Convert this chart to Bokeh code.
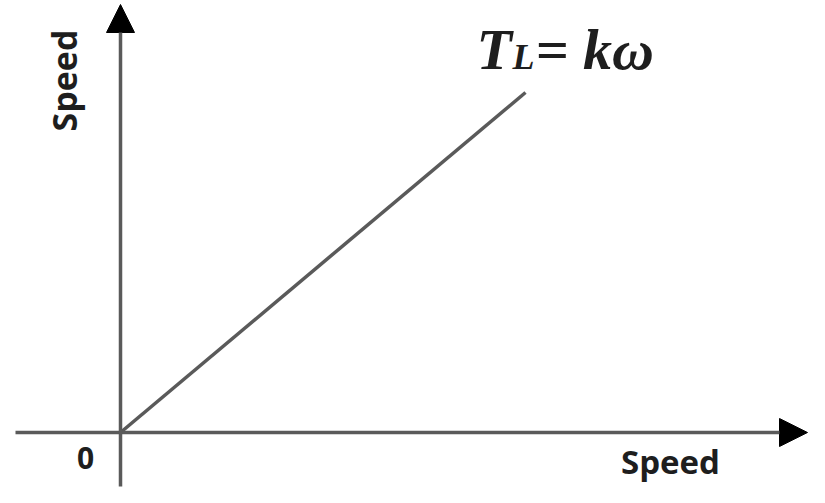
import math
from bokeh.plotting import figure
from bokeh.models import Arrow, NormalHead, Label, Range1d
from bokeh.embed import file_html
from bokeh.resources import INLINE

# Data: load torque proportional to speed, T_L = k*omega
speed = [0.0, 4.05]
load_torque = [0.0, 3.40]
x_label = "Speed"
y_label = "Speed"
origin_label = "0"

# axis extents (data units)
x_axis_start, x_axis_end = -1.05, 6.87
y_axis_start, y_axis_end = -0.54, 4.28

p = figure(width=809, height=487, output_backend="svg", toolbar_location=None,
           x_range=Range1d(-1.20, 6.89), y_range=Range1d(-0.55, 4.32),
           min_border=0)
p.axis.visible = False
p.grid.visible = False
p.outline_line_color = None
p.background_fill_color = "white"
p.border_fill_color = "white"

axis_color = "#5a5a5a"
text_color = "#1e1e1e"

# axes with arrow heads
p.add_layout(Arrow(end=NormalHead(size=28, fill_color="black", line_color="black", line_width=1),
                   x_start=x_axis_start, y_start=0, x_end=x_axis_end, y_end=0,
                   line_color=axis_color, line_width=3.5))
p.add_layout(Arrow(end=NormalHead(size=28, fill_color="black", line_color="black", line_width=1),
                   x_start=0, y_start=y_axis_start, x_end=0, y_end=y_axis_end,
                   line_color=axis_color, line_width=3.5))

# load line
p.line(speed, load_torque, line_color=axis_color, line_width=3.5)

# labels
p.add_layout(Label(x=-0.57, y=3.52, text=y_label, angle=math.pi / 2,
                   text_align="center", text_baseline="middle",
                   text_font="Open Sans", text_font_style="bold",
                   text_font_size="34px", text_color=text_color))
p.add_layout(Label(x=5.50, y=-0.29, text=x_label,
                   text_align="center", text_baseline="middle",
                   text_font="Open Sans", text_font_style="bold",
                   text_font_size="33px", text_color=text_color))
p.add_layout(Label(x=-0.35, y=-0.25, text=origin_label,
                   text_align="center", text_baseline="middle",
                   text_font="Open Sans", text_font_style="bold",
                   text_font_size="30px", text_color=text_color))

# equation T_L = k omega
p.add_layout(Label(x=3.56, y=3.83, text="T",
                   text_align="left", text_baseline="alphabetic",
                   text_font="Liberation Serif", text_font_style="bold italic",
                   text_font_size="58px", text_color=text_color))
p.add_layout(Label(x=3.92, y=3.76, text="L",
                   text_align="left", text_baseline="alphabetic",
                   text_font="Liberation Serif", text_font_style="bold italic",
                   text_font_size="36px", text_color=text_color))
p.add_layout(Label(x=4.15, y=3.83, text="= kω",
                   text_align="left", text_baseline="alphabetic",
                   text_font="Liberation Serif", text_font_style="bold italic",
                   text_font_size="58px", text_color=text_color))

open("out.html", "w").write(file_html(p, INLINE))
